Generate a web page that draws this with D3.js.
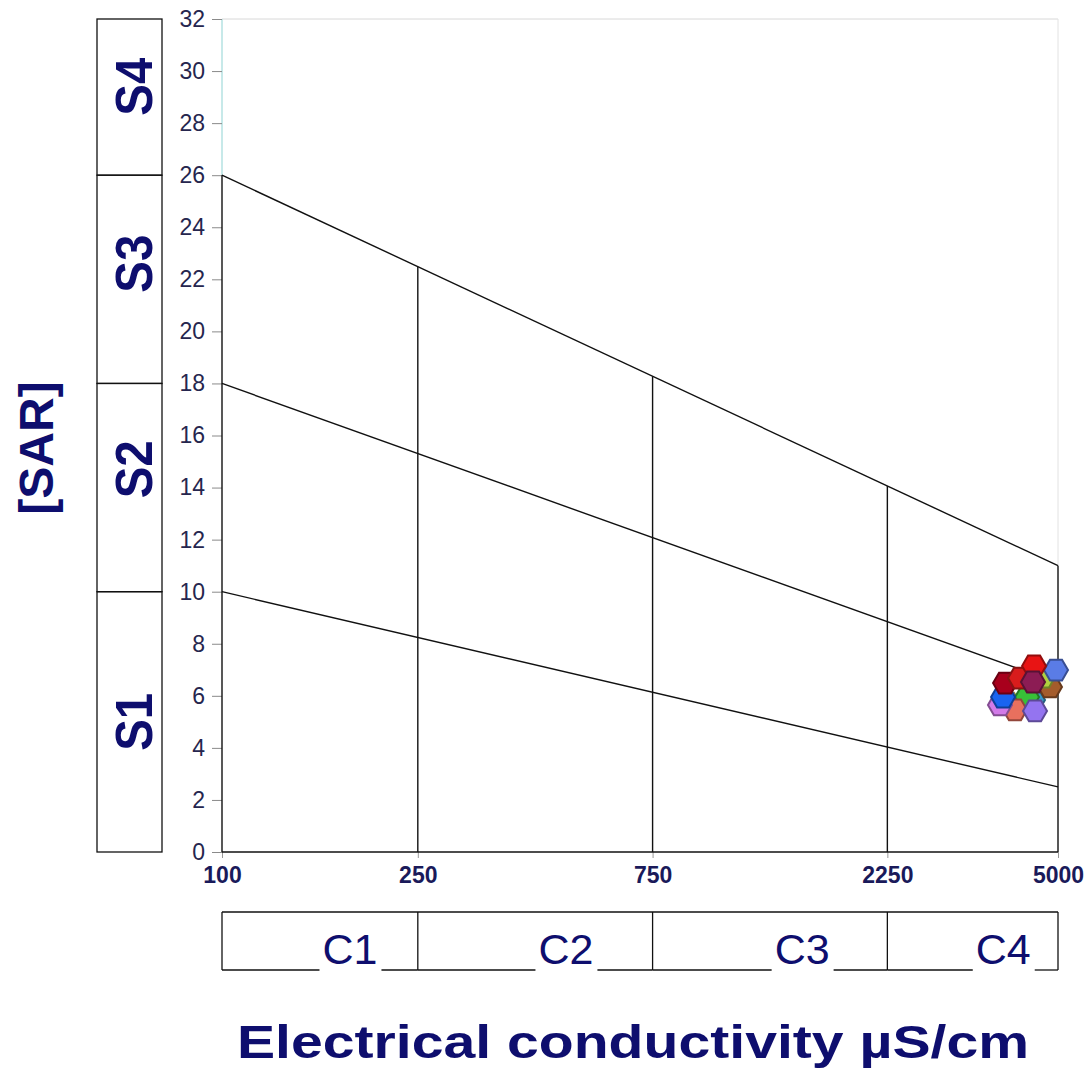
<!DOCTYPE html>
<html>
<head>
<meta charset="utf-8">
<script src="https://cdn.jsdelivr.net/npm/d3@7"></script>
<style>
  body { margin: 0; background: #fff; }
  svg { display: block; font-family: "Liberation Sans", Arial, sans-serif; }
</style>
</head>
<body>
<div id="chart"></div>
<script>
// tick values
const xTicks = [100, 250, 750, 2250, 5000];
const yTicks = d3.range(0, 33, 2);

// salinity hazard lines (SAR at EC=100 and EC=5000)
const sarAt100 = [10, 18, 26];
const sarAt5000 = [2.5, 6.5, 11];

// class boxes
const sBounds = [0, 10, 18, 26, 32];
const sLabels = ['S1', 'S2', 'S3', 'S4'];
const sLabelSar = [5, 14.7, 22.6, 29.4];
const cBounds = [100, 250, 750, 2250, 5000];
const cLabels = ['C1', 'C2', 'C3', 'C4'];
const cLabelEc = [182, 500, 1510, 3870];

// samples
const sampleEc = [3958, 4448, 4325, 4088, 3811, 3867, 4490, 4816, 4661, 4954, 3903, 4187, 4470, 4448];
const sampleSar = [5.72, 5.84, 5.95, 5.46, 5.65, 5.95, 5.42, 6.34, 6.72, 6.99, 6.49, 6.68, 7.15, 6.53];
const sampleColor = ['#f2dc6a', '#3a98c8', '#38c038', '#e8705e', '#d27ae8', '#1a64f0', '#9474f0',
    '#a45c2c', '#b0d040', '#5a7ce6', '#a8001c', '#d81c1c', '#e81414', '#8c1c54'];

const W = 1085, H = 1071;
const navy = '#0e0e6e';

const svg = d3.select('#chart').append('svg')
    .attr('width', W)
    .attr('height', H);

const x = d3.scaleLog().domain([100, 5000]).range([222, 1058]);
const y = d3.scaleLinear().domain([0, 32]).range([852, 19]);
const topLine = d3.scaleLog().domain([100, 5000]).range([sarAt100[2], sarAt5000[2]]);

// light frame
svg.append('line')
    .attr('x1', x(100)).attr('x2', x(5000))
    .attr('y1', y(32)).attr('y2', y(32))
    .attr('stroke', '#d8d8d8');
svg.append('line')
    .attr('x1', x(5000)).attr('x2', x(5000))
    .attr('y1', y(32)).attr('y2', y(topLine(5000)))
    .attr('stroke', '#e2e2e2');
svg.append('line')
    .attr('x1', x(100)).attr('x2', x(100))
    .attr('y1', y(32)).attr('y2', y(26))
    .attr('stroke', '#b4e2e2').attr('stroke-width', 1.5);

// y axis
const yAxis = d3.axisLeft(y).tickValues(yTicks).tickSize(10).tickPadding(7);
const gy = svg.append('g')
    .attr('transform', `translate(${x(100)},0)`)
    .call(yAxis);
gy.select('.domain').remove();
gy.selectAll('line').attr('stroke', '#8a8a8a');
gy.selectAll('text')
    .attr('font-size', 23)
    .attr('fill', '#26264e')
    .attr('font-family', '"Liberation Sans", Arial, sans-serif');
svg.append('line')
    .attr('x1', x(100)).attr('x2', x(100))
    .attr('y1', y(0)).attr('y2', y(26))
    .attr('stroke', '#111').attr('stroke-width', 1.4);

// x axis
const xAxis = d3.axisBottom(x).tickValues(xTicks).tickFormat(d3.format('d')).tickSize(6).tickPadding(9);
const gx = svg.append('g')
    .attr('transform', `translate(0,${y(0)})`)
    .call(xAxis);
gx.select('.domain').remove();
gx.selectAll('line').attr('stroke', '#999');
gx.selectAll('text')
    .attr('font-size', 23)
    .attr('font-weight', 'bold')
    .attr('fill', '#1a1a5a')
    .attr('font-family', '"Liberation Sans", Arial, sans-serif');
svg.append('line')
    .attr('x1', x(100)).attr('x2', x(5000))
    .attr('y1', y(0)).attr('y2', y(0))
    .attr('stroke', '#111').attr('stroke-width', 1.4);

// hazard lines
sarAt100.forEach((v, i) => {
    svg.append('line')
        .attr('x1', x(100)).attr('y1', y(v))
        .attr('x2', x(5000)).attr('y2', y(sarAt5000[i]))
        .attr('stroke', '#111').attr('stroke-width', 1.4);
});
cBounds.slice(1).forEach(ec => {
    svg.append('line')
        .attr('x1', x(ec)).attr('x2', x(ec))
        .attr('y1', y(0)).attr('y2', y(topLine(ec)))
        .attr('stroke', '#111').attr('stroke-width', 1.4);
});

// S boxes
const sBox = svg.append('g');
for (let i = 0; i < 4; i++) {
    sBox.append('rect')
        .attr('x', 97).attr('width', 65)
        .attr('y', y(sBounds[i + 1]))
        .attr('height', y(sBounds[i]) - y(sBounds[i + 1]))
        .attr('fill', 'none').attr('stroke', '#111').attr('stroke-width', 1.3);
    sBox.append('text')
        .attr('transform', `translate(152,${y(sLabelSar[i])}) rotate(-90)`)
        .attr('text-anchor', 'middle')
        .attr('font-size', 52)
        .attr('font-weight', 'bold')
        .attr('fill', navy)
        .attr('textLength', 58)
        .attr('lengthAdjust', 'spacingAndGlyphs')
        .text(sLabels[i]);
}

// C boxes
const cTop = 912, cBot = 970;
const cBox = svg.append('g');
cBox.append('line')
    .attr('x1', x(100)).attr('x2', x(5000))
    .attr('y1', cTop).attr('y2', cTop)
    .attr('stroke', '#111').attr('stroke-width', 1.3);
cBounds.forEach(ec => {
    cBox.append('line')
        .attr('x1', x(ec)).attr('x2', x(ec))
        .attr('y1', cTop).attr('y2', cBot)
        .attr('stroke', '#111').attr('stroke-width', 1.3);
});
cLabels.forEach((lab, i) => {
    const t = cBox.append('text')
        .attr('x', x(cLabelEc[i]))
        .attr('y', 964)
        .attr('text-anchor', 'middle')
        .attr('font-size', 43)
        .attr('fill', navy)
        .text(lab);
    const w = t.node().getComputedTextLength();
    const left = x(cLabelEc[i]) - w / 2 - 3;
    const right = x(cLabelEc[i]) + w / 2 + 4;
    cBox.append('line')
        .attr('x1', x(cBounds[i])).attr('x2', left)
        .attr('y1', cBot).attr('y2', cBot)
        .attr('stroke', '#111').attr('stroke-width', 1.3);
    cBox.append('line')
        .attr('x1', right).attr('x2', x(cBounds[i + 1]))
        .attr('y1', cBot).attr('y2', cBot)
        .attr('stroke', '#111').attr('stroke-width', 1.3);
});

// samples
const hex = d3.range(6).map(k => {
    const a = k * Math.PI / 3;
    return [12 * Math.cos(a), 12 * Math.sin(a)];
});
const hexPath = 'M' + hex.map(p => p.join(',')).join('L') + 'Z';
svg.append('g').selectAll('path')
    .data(sampleEc.map((ec, i) => ({ ec: ec, sar: sampleSar[i], c: sampleColor[i] })))
    .join('path')
    .attr('transform', d => `translate(${x(d.ec)},${y(d.sar)})`)
    .attr('d', hexPath)
    .attr('fill', d => d.c)
    .attr('stroke', d => d3.color(d.c).darker(1.3))
    .attr('stroke-width', 2);

// titles
svg.append('text')
    .attr('transform', `translate(53,448) rotate(-90)`)
    .attr('text-anchor', 'middle')
    .attr('font-size', 48)
    .attr('font-weight', 'bold')
    .attr('fill', navy)
    .text('[SAR]');
svg.append('text')
    .attr('x', 633)
    .attr('y', 1058)
    .attr('text-anchor', 'middle')
    .attr('font-size', 47)
    .attr('font-weight', 'bold')
    .attr('fill', navy)
    .attr('textLength', 792)
    .attr('lengthAdjust', 'spacingAndGlyphs')
    .text('Electrical conductivity µS/cm');
</script>
</body>
</html>
